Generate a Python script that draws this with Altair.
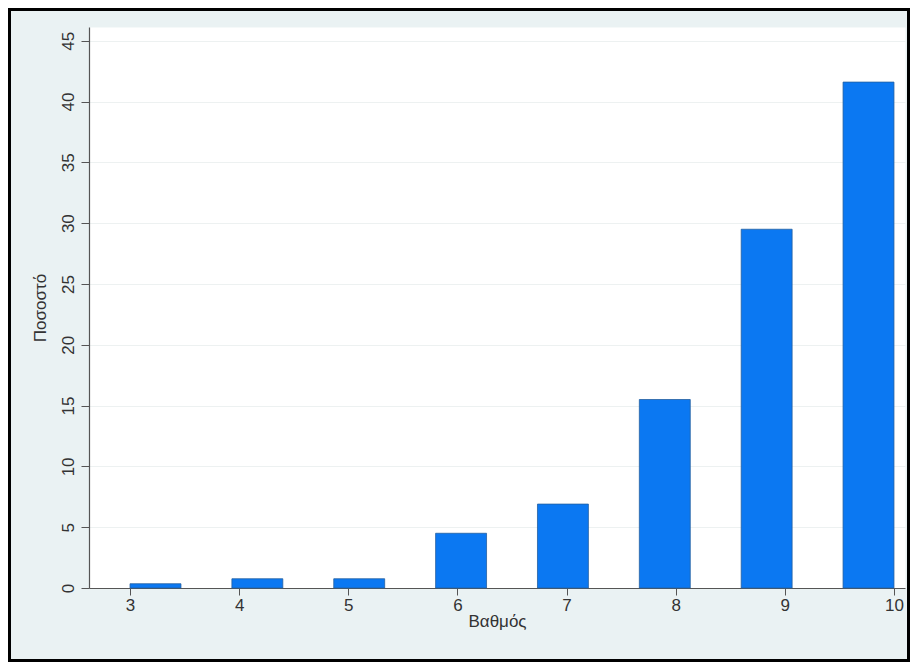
import altair as alt
import pandas as pd
import numpy as np

# Data (percentage of students per grade)
grades = [3, 4, 5, 6, 7, 8, 9, 10]
percent = [0.35, 0.76, 0.76, 4.5, 6.9, 15.5, 29.5, 41.6]

# Histogram binning as in the original (15 bins between 3 and 10)
lo, hi, nbins = 3, 10, 15
w = (hi - lo) / nbins
idx = np.minimum(np.floor((np.array(grades) - lo) / w + 1e-9), nbins - 1)
starts = lo + idx * w
df = pd.DataFrame({
    "grade": grades,
    "pct": percent,
    "start": starts,
    "end": starts + w,
})

y_ticks = list(range(0, 50, 5))
x_ticks = grades

W, H = 816, 561
PAD = {"left": 81, "top": 19, "right": 5, "bottom": 74}

bars = alt.Chart(df).mark_rect(
    color="#0b78f2", stroke="#24609f", strokeWidth=0.8
).encode(
    x=alt.X("start:Q",
            scale=alt.Scale(domain=[2.624, 10.101], nice=False, zero=False),
            axis=alt.Axis(values=x_ticks, format="d", title="Βαθμός",
                          grid=False, tickSize=7, labelPadding=2,
                          titlePadding=0)),
    x2="end:Q",
    y=alt.Y("pct:Q",
            scale=alt.Scale(domain=[0, 46.13], nice=False),
            axis=alt.Axis(values=y_ticks, title="Ποσοστό", labelAngle=270,
                          labelAlign="center", labelBaseline="bottom",
                          tickSize=8, labelPadding=4, titlePadding=10,
                          grid=True, gridColor="#EDF1F1", gridWidth=1.2)),
    y2=alt.datum(0),
)

border = alt.Chart(pd.DataFrame({"a": [0]})).mark_rect(
    fillOpacity=0, stroke="black", strokeWidth=3
).encode(
    x=alt.value(-PAD["left"] + 1.5),
    x2=alt.value(W + PAD["right"] - 1.5),
    y=alt.value(-PAD["top"] + 1.5),
    y2=alt.value(H + PAD["bottom"] - 1.5),
)

chart = alt.layer(bars, border).properties(
    width=W, height=H,
    autosize=alt.AutoSizeParams(type="none"),
    padding=PAD,
    background="#EAF2F3",
).configure_view(
    fill="white", stroke="transparent"
).configure_axis(
    labelFont="Liberation Sans", titleFont="Liberation Sans",
    labelFontSize=17, titleFontSize=17, titleFontWeight="normal",
    labelColor="#333333", titleColor="#333333",
    domainColor="#555555", tickColor="#555555", domainWidth=1.2,
)

chart.save("out.html", embed_options={"renderer": "svg", "actions": False})
